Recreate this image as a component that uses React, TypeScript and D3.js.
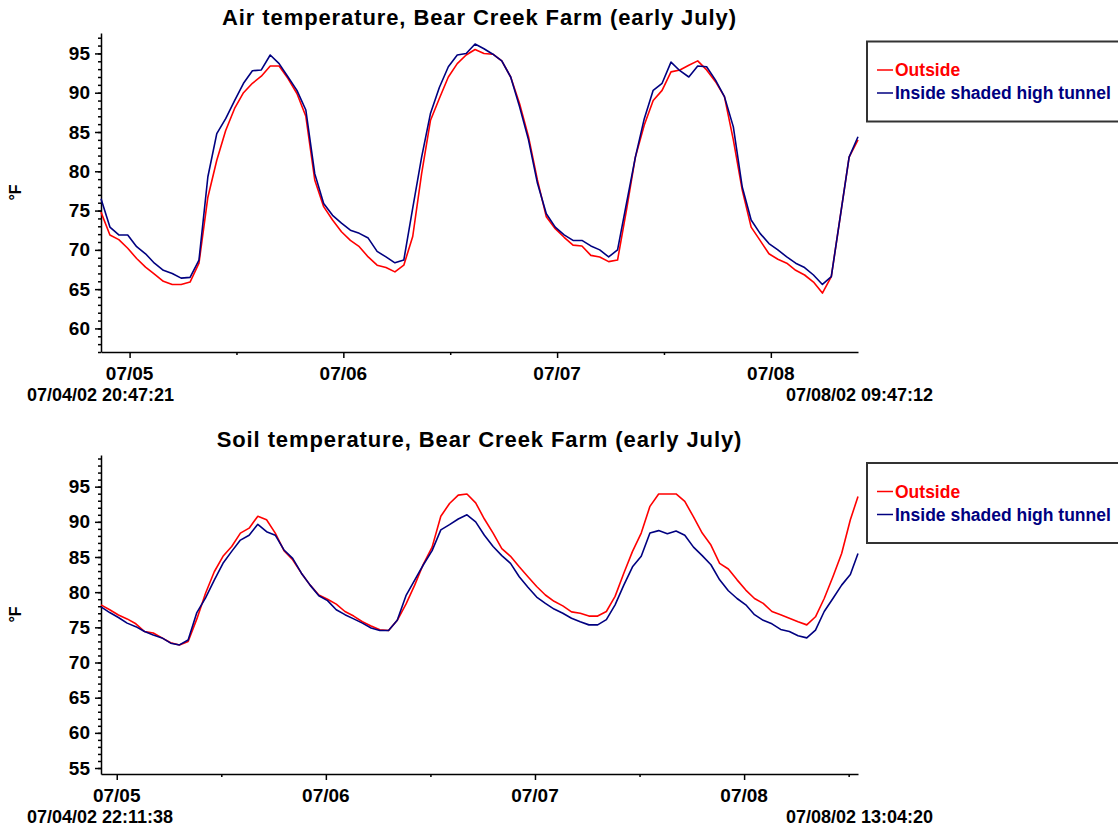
import React, { useEffect, useRef } from 'react';
import * as d3 from 'd3';

// sample times: one reading per hour from the logger start, last reading at logger end
const airStart = new Date(2002, 6, 4, 20, 47, 21);
const airEnd = new Date(2002, 6, 8, 9, 47, 12);
const soilStart = new Date(2002, 6, 4, 22, 11, 38);
const soilEnd = new Date(2002, 6, 8, 13, 4, 20);

const airOutside = [
  74.8, 71.9, 71.3, 70.2, 68.9, 67.8, 66.9, 66.0, 65.6, 65.6, 65.9, 68.3, 76.7, 81.4, 85.2, 88.0, 90.0, 91.2, 92.1, 93.4,
  93.4, 91.8, 89.9, 87.0, 78.9, 75.5, 73.8, 72.3, 71.2, 70.4, 69.1, 68.05, 67.75, 67.2, 68.05, 71.7, 79.7, 86.5, 89.3, 92.0,
  93.7, 94.8, 95.5, 95.0, 94.9, 94.05, 92.0, 88.6, 84.4, 78.9, 74.2, 72.7, 71.6, 70.6, 70.5, 69.3, 69.1, 68.5, 68.7, 75.05,
  81.8, 85.9, 89.0, 90.3, 92.65, 92.9, 93.5, 94.05, 92.9, 91.4, 89.5, 84.0, 77.6, 72.9, 71.2, 69.5, 68.8, 68.3, 67.4, 66.8,
  65.9, 64.5, 66.6, 74.2, 81.8, 84.0,
];
const airInside = [
  76.5, 72.9, 71.9, 71.9, 70.4, 69.5, 68.3, 67.4, 67.0, 66.4, 66.5, 68.7, 79.3, 84.8, 86.7, 89.0, 91.2, 92.8, 92.9, 94.8,
  93.7, 92.0, 90.3, 87.8, 79.7, 75.9, 74.4, 73.4, 72.5, 72.1, 71.5, 69.8, 69.1, 68.35, 68.7, 75.3, 81.8, 87.4, 90.7, 93.3,
  94.8, 95.0, 96.2, 95.6, 94.9, 94.05, 92.0, 88.2, 84.0, 78.5, 74.6, 72.9, 71.9, 71.2, 71.2, 70.5, 70.0, 69.1, 70.0, 75.9,
  81.8, 86.7, 90.3, 91.2, 93.9, 92.8, 92.0, 93.4, 93.3, 91.6, 89.5, 85.65, 78.0, 73.8, 72.1, 70.8, 70.0, 69.1, 68.3, 67.75,
  66.8, 65.6, 66.6, 74.2, 81.8, 84.4,
];

const soilOutside = [
  78.2, 77.5, 76.75, 76.2, 75.5, 74.4, 74.2, 73.5, 72.8, 72.5, 73.0, 76.2, 79.85, 82.9, 85.1, 86.5, 88.4, 89.1, 90.8, 90.3,
  88.4, 85.9, 84.6, 82.7, 81.0, 79.6, 79.0, 78.3, 77.25, 76.6, 75.8, 75.2, 74.65, 74.55, 76.0, 78.3, 81.0, 84.0, 86.4, 90.8,
  92.6, 93.8, 93.96, 92.7, 90.4, 88.4, 86.2, 85.1, 83.6, 82.2, 80.8, 79.6, 78.7, 78.05, 77.2, 77.0, 76.6, 76.6, 77.25, 79.4,
  82.7, 85.8, 88.4, 92.2, 93.96, 93.96, 93.96, 92.9, 90.7, 88.4, 86.7, 84.1, 83.3, 81.75, 80.3, 79.1, 78.4, 77.25, 76.8, 76.3,
  75.8, 75.35, 76.5, 79.1, 82.2, 85.5, 90.3, 93.6,
];
const soilInside = [
  77.9, 77.1, 76.4, 75.6, 75.1, 74.4, 73.9, 73.5, 72.75, 72.5, 73.2, 77.1, 79.2, 81.7, 84.1, 85.8, 87.4, 88.1, 89.65, 88.6,
  88.1, 86.0, 84.8, 82.7, 81.0, 79.5, 78.8, 77.5, 76.8, 76.2, 75.6, 74.9, 74.55, 74.55, 76.0, 79.5, 81.7, 83.9, 85.9, 88.85,
  89.6, 90.4, 91.0, 90.0, 88.1, 86.5, 85.2, 84.1, 82.2, 80.7, 79.3, 78.4, 77.6, 77.0, 76.3, 75.8, 75.35, 75.35, 76.1, 78.2,
  81.0, 83.6, 85.1, 88.4, 88.75, 88.3, 88.7, 88.1, 86.4, 85.2, 83.9, 81.75, 80.2, 79.1, 78.2, 76.8, 76.0, 75.5, 74.7, 74.4,
  73.8, 73.5, 74.6, 77.25, 79.1, 81.0, 82.5, 85.5,
];

const seriesNames = ['Outside', 'Inside shaded high tunnel'];
const seriesColors = ['#ff0000', '#000080'];
const airTicks = [60, 65, 70, 75, 80, 85, 90, 95];
const soilTicks = [55, 60, 65, 70, 75, 80, 85, 90, 95];

const FONT = "'Liberation Sans', Arial, sans-serif";

const hourly = (start: Date, end: Date, n: number) =>
  d3.range(n).map(i => new Date(Math.min(start.getTime() + i * 3600e3, end.getTime())));

function drawChart(svg: any, c: any) {
  const x = d3.scaleTime().domain([c.start, c.end]).range([101, 858]);
  const y = d3.scaleLinear().domain(c.yDomain).range([c.bottom, c.top]);
  const times = hourly(c.start, c.end, c.outside.length);
  const g = svg.append('g');

  g.append('text')
    .attr('x', 479.5).attr('y', c.titleY)
    .attr('text-anchor', 'middle')
    .style('font-family', FONT).style('font-weight', 'bold')
    .style('font-size', '22px').style('letter-spacing', '0.9px')
    .text(c.title);

  // y axis
  const [y0, y1] = c.yDomain;
  const minor = d3.range(Math.ceil(y0), Math.floor(y1) + 1);
  g.append('g').attr('transform', 'translate(101,0)')
    .call(d3.axisLeft(y).tickValues(minor).tickSize(3).tickFormat(() => '').tickSizeOuter(0))
    .call((a: any) => a.select('.domain').remove());
  g.append('g').attr('transform', 'translate(101,0)')
    .call(d3.axisLeft(y).tickValues(c.yTicks).tickSize(6).tickPadding(5).tickSizeOuter(0))
    .call((a: any) => a.selectAll('text').style('font-family', FONT).style('font-weight', 'bold').style('font-size', '19px'));

  // x axis
  const days = d3.timeDay.range(c.start, c.end);
  const noons = d3.timeHour.range(c.start, c.end).filter(d => d.getHours() === 12);
  g.append('g').attr('transform', `translate(0,${c.bottom})`)
    .call(d3.axisBottom(x).tickValues(noons).tickSize(3).tickFormat(() => '').tickSizeOuter(0))
    .call((a: any) => a.select('.domain').remove());
  g.append('g').attr('transform', `translate(0,${c.bottom})`)
    .call(d3.axisBottom(x).tickValues(days).tickSize(6).tickFormat(() => '').tickSizeOuter(0));
  g.selectAll('.domain, .tick line').attr('stroke', '#000').attr('stroke-width', 1.5);

  const fmtDay = d3.timeFormat('%m/%d');
  const fmtFull = d3.timeFormat('%m/%d/%y %H:%M:%S');
  g.selectAll('text.day').data(days).enter().append('text')
    .attr('x', (d: Date) => x(d)).attr('y', c.bottom + 28)
    .attr('text-anchor', 'middle')
    .style('font-family', FONT).style('font-weight', 'bold').style('font-size', '19px')
    .text((d: Date) => fmtDay(d));
  g.append('text').attr('x', 27).attr('y', c.bottom + 49)
    .style('font-family', FONT).style('font-weight', 'bold').style('font-size', '18px')
    .text(fmtFull(c.start));
  g.append('text').attr('x', 933).attr('y', c.bottom + 49).attr('text-anchor', 'end')
    .style('font-family', FONT).style('font-weight', 'bold').style('font-size', '18px')
    .text(fmtFull(c.end));

  g.append('text')
    .attr('transform', `translate(21,${(c.top + c.bottom) / 2}) rotate(-90)`)
    .attr('text-anchor', 'middle')
    .style('font-family', FONT).style('font-weight', 'bold').style('font-size', '16px')
    .text('°F');

  // lines
  const line = d3.line<number>().x((_, i) => x(times[i])).y(d => y(d));
  [c.outside, c.inside].forEach((vals: number[], k: number) => {
    g.append('path').datum(vals)
      .attr('d', line)
      .attr('fill', 'none')
      .attr('stroke', seriesColors[k])
      .attr('stroke-width', 1.6)
      .attr('stroke-linejoin', 'round');
  });

  // legend
  const lg = g.append('g').attr('transform', `translate(867,${c.legendTop})`);
  lg.append('rect').attr('x', 0).attr('y', 0).attr('width', 262).attr('height', 80)
    .attr('fill', '#fff').attr('stroke', '#333').attr('stroke-width', 2);
  seriesNames.forEach((name, k) => {
    const ly = 28.5 + k * 23;
    lg.append('line').attr('x1', 10).attr('x2', 26).attr('y1', ly).attr('y2', ly)
      .attr('stroke', seriesColors[k]).attr('stroke-width', 1.5);
    lg.append('text').attr('x', 28).attr('y', ly + 6)
      .style('font-family', FONT).style('font-weight', 'bold').style('font-size', '17.5px')
      .attr('fill', seriesColors[k])
      .text(name);
  });
}

const App = () => {
  const ref = useRef<SVGSVGElement>(null);

  useEffect(() => {
    const svg = d3.select(ref.current);
    svg.selectAll('*').remove();
    drawChart(svg, {
      title: 'Air temperature, Bear Creek Farm (early July)',
      start: airStart, end: airEnd,
      outside: airOutside, inside: airInside,
      yDomain: [57, 97.6], yTicks: airTicks,
      top: 33, bottom: 352, titleY: 25, legendTop: 41.5,
    });
    drawChart(svg, {
      title: 'Soil temperature, Bear Creek Farm (early July)',
      start: soilStart, end: soilEnd,
      outside: soilOutside, inside: soilInside,
      yDomain: [54.15, 99.5], yTicks: soilTicks,
      top: 455, bottom: 774, titleY: 447, legendTop: 463,
    });
  }, []);

  return (
    <svg
      ref={ref}
      width={1118}
      height={830}
      style={{ position: 'absolute', left: 0, top: 0, background: '#fff', display: 'block' }}
    />
  );
};

export default App;
